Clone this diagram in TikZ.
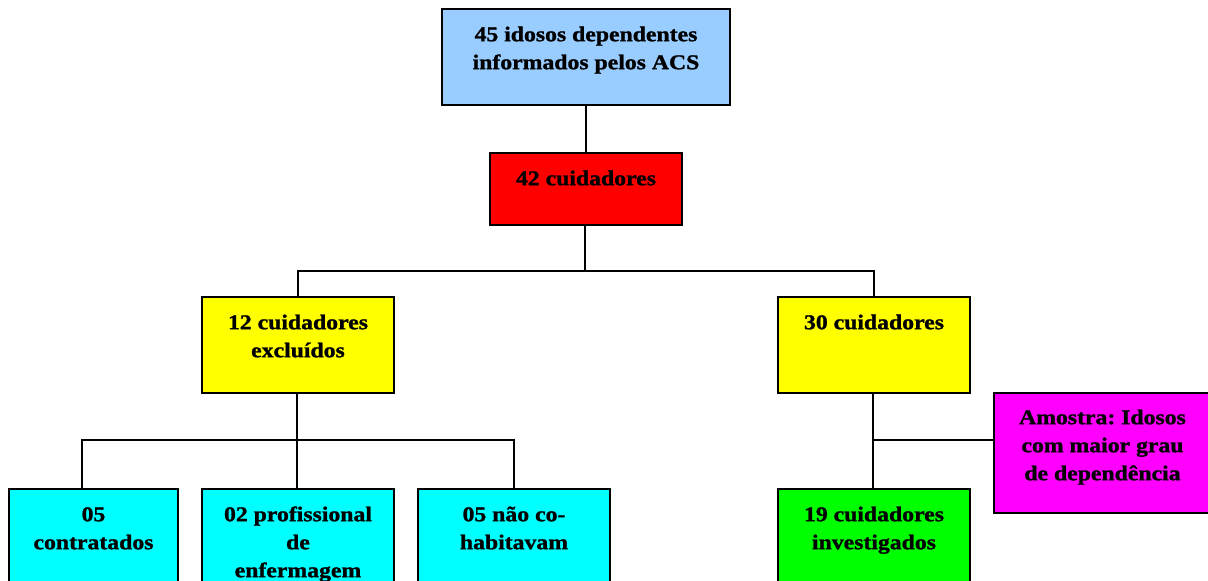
\documentclass[tikz,border=0pt]{standalone}
\usepackage{fontspec}
\setmainfont{Liberation Serif}[FakeStretch=1.13, BoldFeatures={FakeBold=1.2}]
\usetikzlibrary{positioning}
\frenchspacing
\definecolor{cblue}{RGB}{153,204,255}
\definecolor{cred}{RGB}{255,0,0}
\definecolor{cyel}{RGB}{255,255,0}
\definecolor{ccyan}{RGB}{0,255,255}
\definecolor{cgreen}{RGB}{0,255,0}
\definecolor{cmag}{RGB}{255,0,255}
\tikzset{
  boxnode/.style={draw=black, line width=2pt, rectangle, inner sep=0pt, anchor=north west},
  txt/.style={inner sep=0pt, align=center, font=\fontsize{21}{28}\selectfont\bfseries},
  conn/.style={line width=1.6pt, draw=black}
}
\newcommand{\fst}{\rule{0pt}{16pt}}
\begin{document}
\begin{tikzpicture}[x=1pt,y=-1pt]
\useasboundingbox (0,0) rectangle (1208,581);
\clip (0,0) rectangle (1208,581);
% boxes
\node[boxnode, fill=cblue, minimum width=288pt, minimum height=96pt] (b1) at (441,8) {};
\node[boxnode, fill=cred, minimum width=192pt, minimum height=72pt] (b2) at (489,152) {};
\node[boxnode, fill=cyel, minimum width=192pt, minimum height=96pt] (b3) at (201,296) {};
\node[boxnode, fill=cyel, minimum width=192pt, minimum height=96pt] (b4) at (777,296) {};
\node[boxnode, fill=ccyan, minimum width=169pt, minimum height=112pt] (c1) at (8,488) {};
\node[boxnode, fill=ccyan, minimum width=192pt, minimum height=112pt] (c2) at (201,488) {};
\node[boxnode, fill=ccyan, minimum width=192pt, minimum height=112pt] (c3) at (417,488) {};
\node[boxnode, fill=cgreen, minimum width=192pt, minimum height=112pt] (g) at (777,488) {};
\node[boxnode, fill=cmag, minimum width=217pt, minimum height=120pt] (m) at (993,392) {};
% texts
\node[txt, below=17pt of b1.north] (t1) {\fst 45 idosos dependentes\\informados pelos ACS};
\node[txt, below=17pt of b2.north] (t2) {\fst 42 cuidadores};
\node[txt, below=17pt of b3.north] (t3) {\fst 12 cuidadores\\exclu\'idos};
\node[txt, below=17pt of b4.north] (t4) {\fst 30 cuidadores};
\node[txt, below=17pt of c1.north] (t5) {\fst 05\\contratados};
\node[txt, below=17pt of c2.north] (t6) {\fst 02 profissional\\de\\enfermagem};
\node[txt, below=17pt of c3.north] (t7) {\fst 05 n\~ao co-\\habitavam};
\node[txt, below=17pt of g.north] (t8) {\fst 19 cuidadores\\investigados};
\node[txt, below=16pt of m.north] (t9) {\fst Amostra: Idosos\\com maior grau\\de depend\^encia};
% connectors
\coordinate (j1) at (585,271);
\coordinate (j2) at (297,440);
\coordinate (j3) at (873,440);
\draw[conn] (b1.south) -- (b1.south |- b2.north);
\draw[conn] (j1 |- b2.south) -- (j1);
\draw[conn] (b3.north) |- (j1) -| (b4.north);
\draw[conn] (j2 |- b3.south) -- (j2);
\draw[conn] ([xshift=-11.5pt]c1.north) |- (j2) -| (c3.north);
\draw[conn] (j2) -- (j2 |- c2.north);
\draw[conn] (j3 |- b4.south) -- (j3 |- g.north);
\draw[conn] (j3) -- (j3 -| m.west);
\end{tikzpicture}
\end{document}
